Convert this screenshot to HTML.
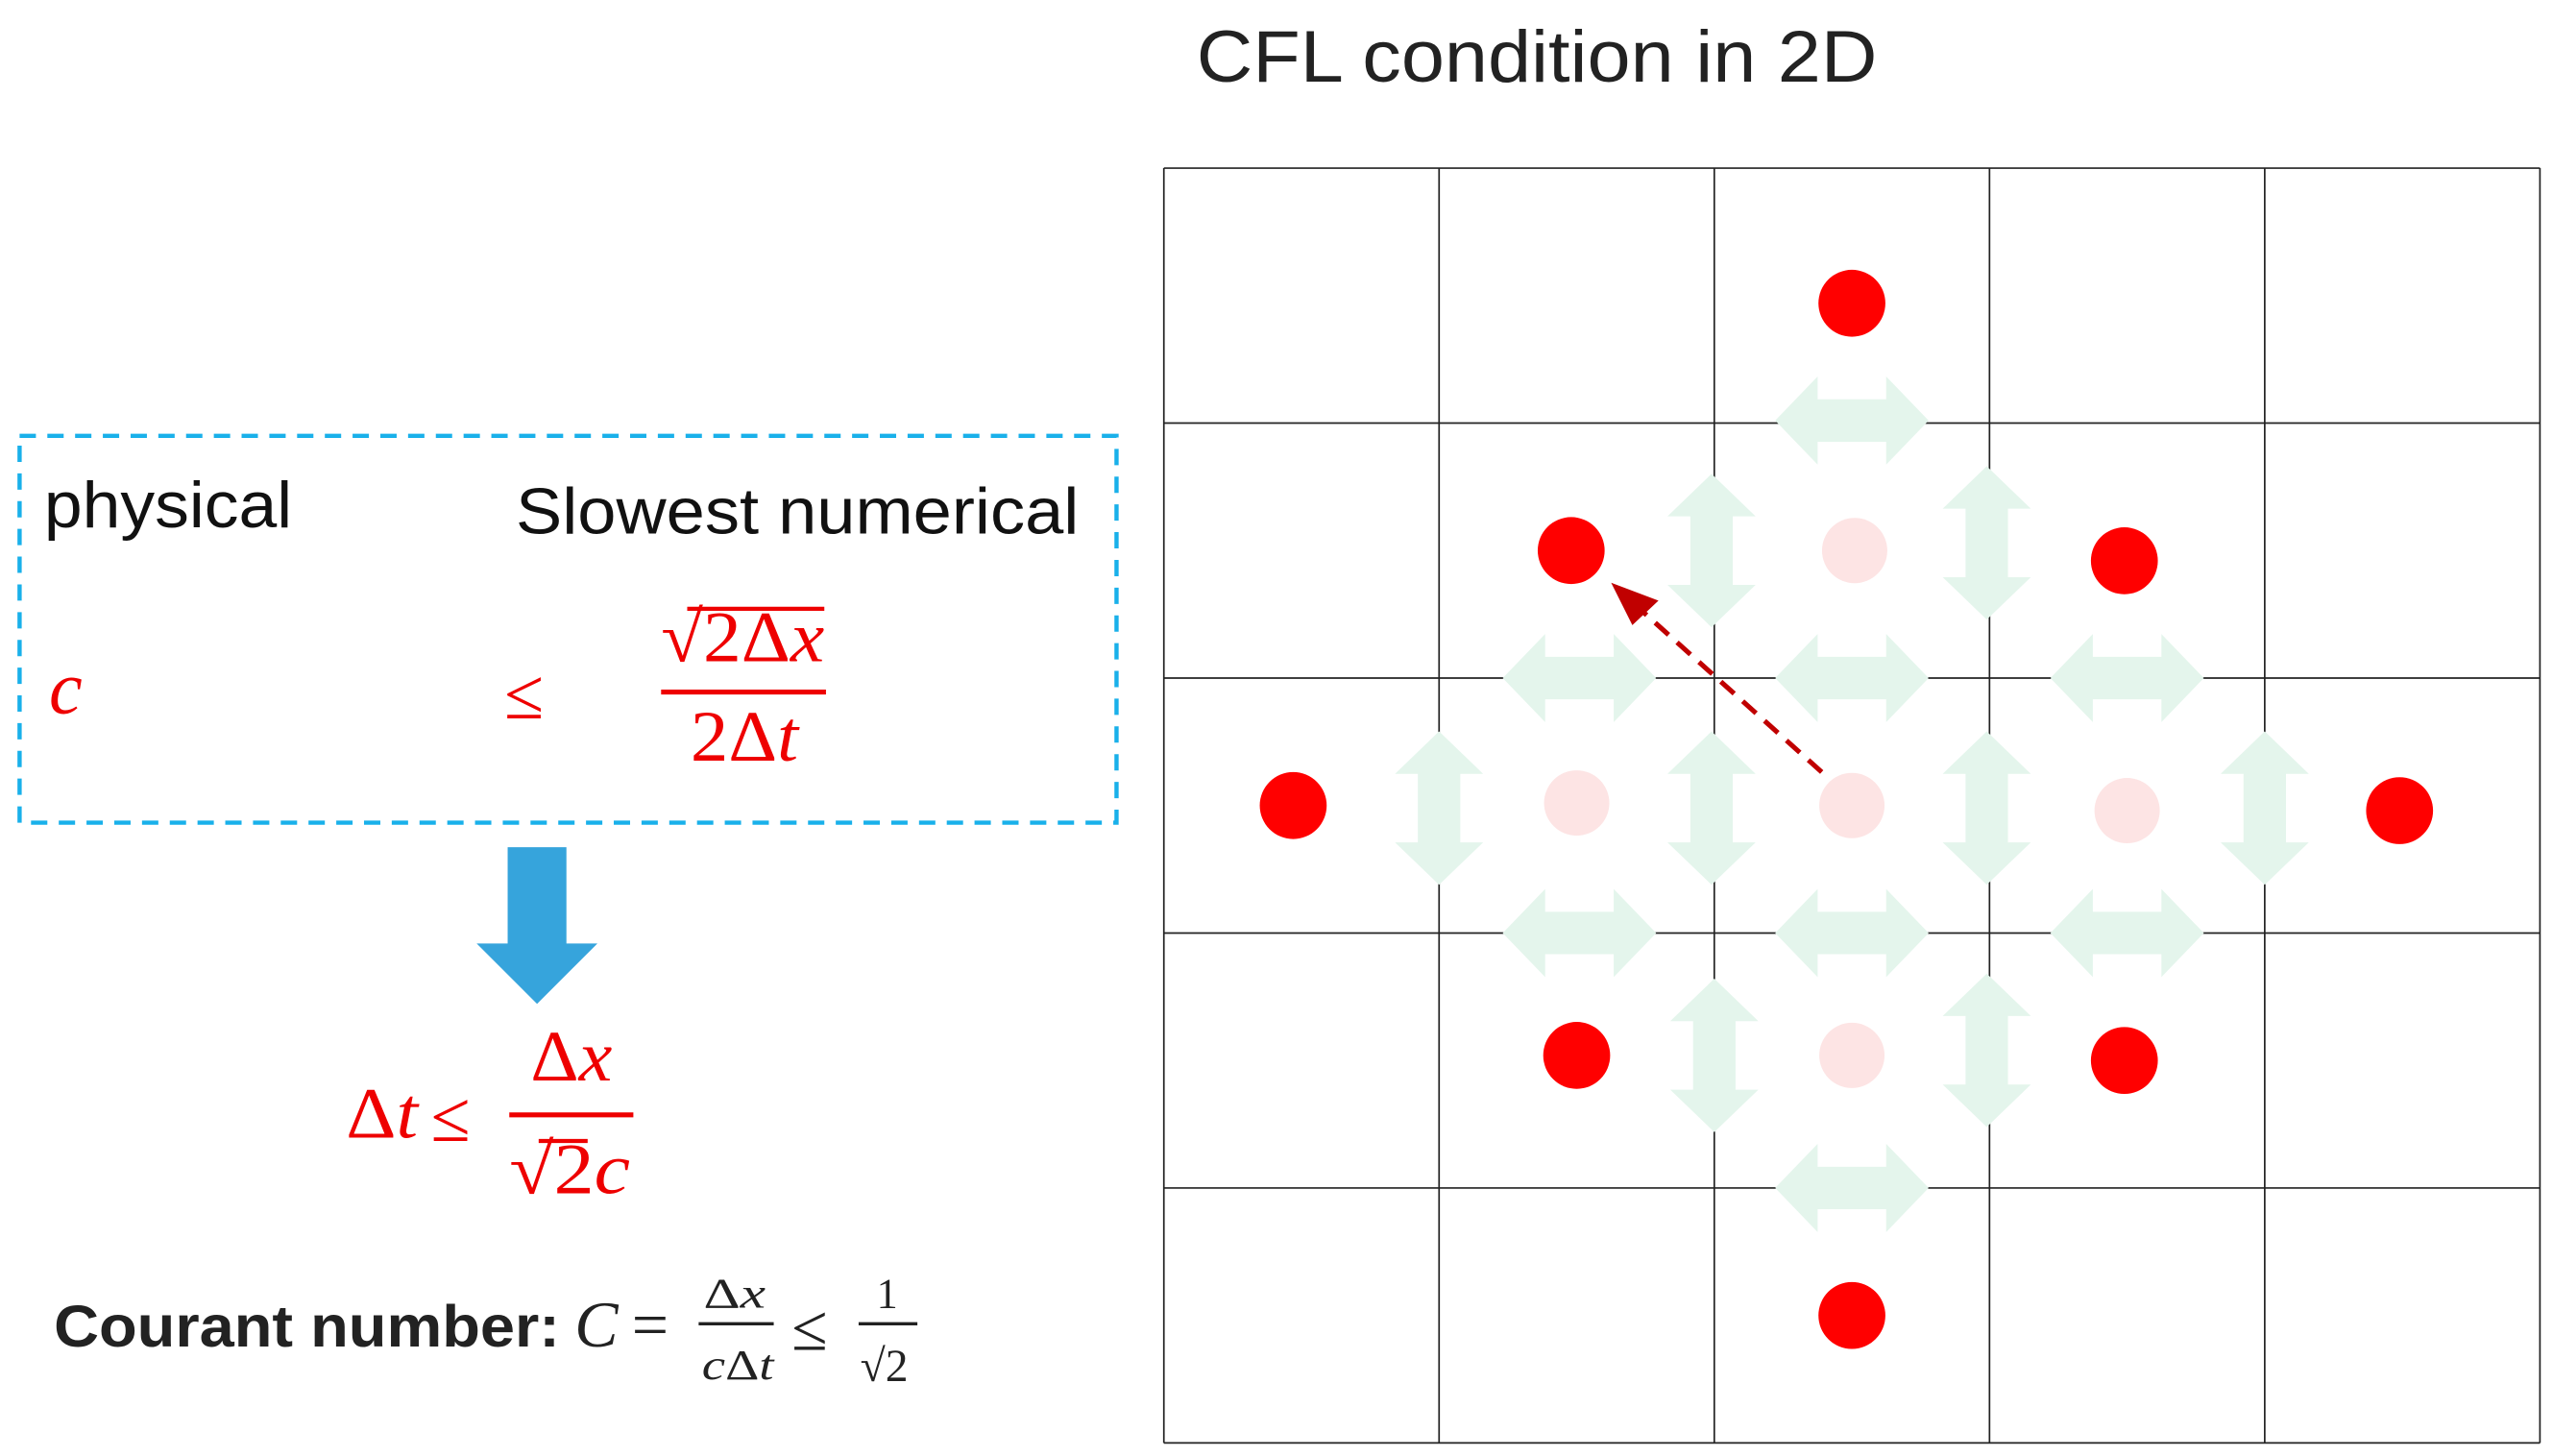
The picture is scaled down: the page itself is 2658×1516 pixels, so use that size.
<!DOCTYPE html>
<html><head><meta charset="utf-8"><style>
html,body{margin:0;padding:0;background:#fff;}
svg{display:block;}
</style></head><body>
<svg width="2658" height="1516" viewBox="0 0 1564 892" preserveAspectRatio="none" xmlns="http://www.w3.org/2000/svg" font-family="'Liberation Sans', 'DejaVu Sans', sans-serif">
  <text x="733" y="50" font-size="45" fill="#222" textLength="417" lengthAdjust="spacingAndGlyphs">CFL condition in 2D</text>

  <rect x="12" y="267" width="672" height="237" fill="none" stroke="#19b0ea" stroke-width="2.6" stroke-dasharray="10,7"/>
  <text x="27" y="323" font-size="40" fill="#111" textLength="152" lengthAdjust="spacingAndGlyphs">physical</text>
  <text x="316" y="327" font-size="40" fill="#111" textLength="345" lengthAdjust="spacingAndGlyphs">Slowest numerical</text>
  <g fill="#e00" font-family="'Liberation Serif', serif">
    <text x="30" y="437" font-size="46" font-style="italic">c</text>
    <text x="309" y="440" font-size="44">≤</text>
    <text x="405" y="405" font-size="44" textLength="100" lengthAdjust="spacingAndGlyphs">√2Δ<tspan font-style="italic">x</tspan></text>
    <line x1="421" y1="373" x2="505" y2="373" stroke="#e00" stroke-width="2.5"/>
    <line x1="405" y1="424" x2="506" y2="424" stroke="#e00" stroke-width="3"/>
    <text x="423" y="466" font-size="44" textLength="66" lengthAdjust="spacingAndGlyphs">2Δ<tspan font-style="italic">t</tspan></text>
  </g>
  <g>
    <polygon points="311,519 347,519 347,578 366,578 329,615 292,578 311,578" fill="#36a4dc"/>
  </g>
  <g fill="#e00" font-family="'Liberation Serif', serif">
    <text x="212" y="697" font-size="44" textLength="44" lengthAdjust="spacingAndGlyphs">Δ<tspan font-style="italic">t</tspan></text>
    <text x="264" y="699" font-size="44">≤</text>
    <text x="325" y="662" font-size="44" textLength="50" lengthAdjust="spacingAndGlyphs">Δ<tspan font-style="italic">x</tspan></text>
    <line x1="312" y1="683" x2="388" y2="683" stroke="#e00" stroke-width="3"/>
    <text x="312" y="731" font-size="44" textLength="74" lengthAdjust="spacingAndGlyphs">√2<tspan font-style="italic">c</tspan></text>
    <line x1="330" y1="699" x2="360" y2="699" stroke="#e00" stroke-width="2.5"/>
  </g>
  <g fill="#222">
    <text x="33" y="825" font-size="36" font-weight="bold" textLength="310" lengthAdjust="spacingAndGlyphs">Courant number:</text>
    <g font-family="'Liberation Serif', serif">
      <text x="352" y="825" font-size="40" font-style="italic">C</text>
      <text x="387" y="825" font-size="40">=</text>
      <text x="431" y="801" font-size="26" textLength="38" lengthAdjust="spacingAndGlyphs">Δ<tspan font-style="italic">x</tspan></text>
      <line x1="428" y1="811" x2="474" y2="811" stroke="#222" stroke-width="2"/>
      <text x="430" y="845" font-size="26" textLength="44" lengthAdjust="spacingAndGlyphs"><tspan font-style="italic">c</tspan>Δ<tspan font-style="italic">t</tspan></text>
      <text x="485" y="827" font-size="40">≤</text>
      <text x="537" y="801" font-size="26">1</text>
      <line x1="526" y1="811" x2="562" y2="811" stroke="#222" stroke-width="2"/>
      <text x="527" y="846" font-size="28">√2</text>
    </g>
  </g>

  <g id="grid"></g>
  <g id="arrows"></g>
  <g id="dots"></g>
  <g>
    <line x1="1116" y1="473" x2="1000" y2="369" stroke="#c00000" stroke-width="3" stroke-dasharray="11,7"/>
    <polygon points="987,357 1016,368 1000,383" fill="#c00000"/>
  </g>
</svg>
<script>
var cols = 5, rows = 5;
// active (red) points: [col, row] in cell units (cell centre = integer)
var redPts = [[2.0,0.03],[0.98,1.0],[2.99,1.04],[-0.03,2.0],[3.99,2.02],[1.0,2.98],[2.99,3.0],[2.0,4.0]];
var fadedPts = [[2.01,1.0],[1.0,1.99],[2.0,2.0],[3.0,2.02],[2.0,2.98]];
var hArrows = [[2.0,0.49],[1.01,1.5],[2.0,1.5],[3.0,1.5],[1.01,2.5],[2.0,2.5],[3.0,2.5],[2.0,3.5]];
var vArrows = [[1.49,1.0],[2.49,0.97],[0.5,2.01],[1.49,2.01],[2.49,2.01],[3.5,2.01],[1.5,2.98],[2.49,2.96]];

var X0=713, Y0=103, CW=168.6, CH=156.2;
function sx(c){return X0 + (c+0.5)*CW;}
function sy(r){return Y0 + (r+0.5)*CH;}
var NS='http://www.w3.org/2000/svg';
function mk(t,a){var e=document.createElementNS(NS,t);for(var k in a)e.setAttribute(k,a[k]);return e;}

var g=document.getElementById('grid');
for(var i=0;i<=cols;i++){
  var l=mk('line',{x1:X0+i*CW,y1:Y0,x2:X0+i*CW,y2:Y0+rows*CH,stroke:'#222','stroke-width':1});
  
  
  g.appendChild(l);
}
for(var j=0;j<=rows;j++){
  var l2=mk('line',{x1:X0,y1:Y0+j*CH,x2:X0+cols*CW,y2:Y0+j*CH,stroke:'#222','stroke-width':1});
  
  
  g.appendChild(l2);
}

var ag=document.getElementById('arrows');
function dbl(cx,cy,vert){
  var L=47,H=27,hh=13,hl=26;
  var p=[[-L,0],[-L+hl,-H],[-L+hl,-hh],[L-hl,-hh],[L-hl,-H],[L,0],[L-hl,H],[L-hl,hh],[-L+hl,hh],[-L+hl,H]];
  return p.map(function(q){return vert?(cx+q[1])+','+(cy+q[0]):(cx+q[0])+','+(cy+q[1]);}).join(' ');
}
hArrows.forEach(function(a){
  var e=mk('polygon',{points:dbl(sx(a[0]),sy(a[1]),false),fill:'#e4f5ec'});
  
  
  ag.appendChild(e);
});
vArrows.forEach(function(a){
  var e=mk('polygon',{points:dbl(sx(a[0]),sy(a[1]),true),fill:'#e4f5ec'});
  
  
  ag.appendChild(e);
});

var dg=document.getElementById('dots');
fadedPts.forEach(function(p){
  var c=mk('circle',{cx:sx(p[0]),cy:sy(p[1]),r:20,fill:'#fde4e4'});
  
  
  dg.appendChild(c);
});
redPts.forEach(function(p){
  var c=mk('circle',{cx:sx(p[0]),cy:sy(p[1]),r:20.5,fill:'#ff0000'});
  
  
  dg.appendChild(c);
});
</script>
</body></html>
